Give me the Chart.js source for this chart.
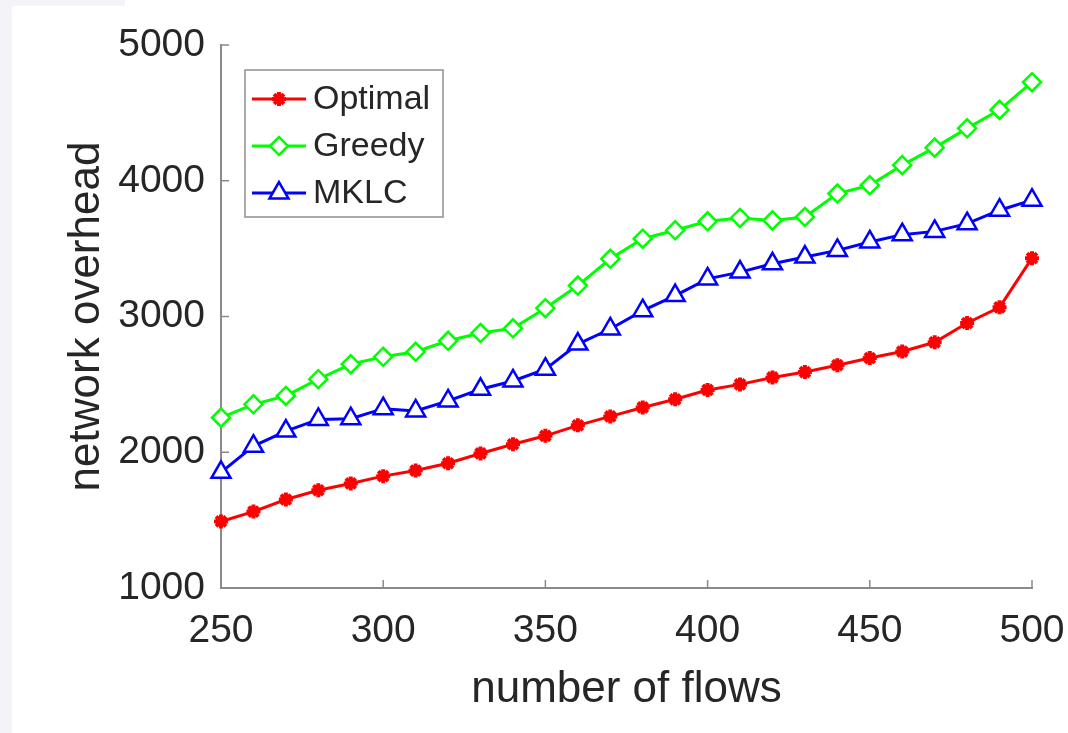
<!DOCTYPE html>
<html>
<head>
<meta charset="utf-8">
<script src="https://cdn.jsdelivr.net/npm/chart.js@4"></script>
<style>
  html, body { margin: 0; padding: 0; background: #fff; }
  #wrap { position: relative; width: 1068px; height: 733px; }
  .strip { position: absolute; background: #f4f4f8; }
  canvas { position: absolute; left: 0; top: 0; }
</style>
</head>
<body>
<div id="wrap">
  <div class="strip" style="left:0;top:0;width:12px;height:733px"></div>
  <div class="strip" style="left:0;top:0;width:125px;height:6px"></div>
  <canvas id="c" width="1068" height="733"></canvas>
</div>
<script>
const FLOWS   = [250,260,270,280,290,300,310,320,330,340,350,360,370,380,390,400,410,420,430,440,450,460,470,480,490,500];
const OPTIMAL = [1490,1563,1652,1720,1770,1824,1865,1919,1991,2059,2121,2198,2264,2330,2390,2459,2500,2551,2591,2641,2694,2742,2810,2952,3068,3430];
const GREEDY  = [2255,2353,2415,2538,2649,2703,2740,2821,2878,2913,3061,3228,3425,3573,3635,3701,3726,3708,3733,3906,3967,4115,4244,4386,4522,4726];
const MKLC    = [1852,2045,2156,2242,2247,2321,2304,2378,2464,2525,2612,2797,2908,3043,3154,3277,3327,3388,3438,3487,3549,3603,3627,3684,3783,3857];
const Y_TICKS = [1000,2000,3000,4000,5000];
const X_TICKS = [250,300,350,400,450,500];

const TXT  = '#262626';
const AXIS = '#8a8a8a';
const FONT = "'Liberation Sans', Arial, sans-serif";

const pts = arr => arr.map((v, i) => ({ x: FLOWS[i], y: v }));

// ticks hacia dentro, estilo matlab
const innerTicks = {
  id: 'innerTicks',
  afterDatasetsDraw(chart) {
    const { ctx, scales: { x, y } } = chart;
    ctx.save();
    ctx.strokeStyle = AXIS;
    ctx.lineWidth = 1.5;
    ctx.beginPath();
    X_TICKS.forEach(v => {
      const px = x.getPixelForValue(v);
      ctx.moveTo(px, y.bottom); ctx.lineTo(px, y.bottom - 8);
    });
    Y_TICKS.forEach(v => {
      const py = y.getPixelForValue(v);
      ctx.moveTo(x.left, py); ctx.lineTo(x.left + 8, py);
    });
    ctx.stroke();
    ctx.restore();
  }
};

// leyenda dentro del área, con caja
const boxLegend = {
  id: 'boxLegend',
  afterDraw(chart) {
    const { ctx } = chart;
    const bx = 245, by = 70, bw = 198, bh = 147;
    ctx.save();
    ctx.fillStyle = '#fff';
    ctx.fillRect(bx, by, bw, bh);
    ctx.strokeStyle = '#8f8f8f';
    ctx.lineWidth = 1.5;
    ctx.strokeRect(bx, by, bw, bh);
    chart.data.datasets.forEach((ds, i) => {
      const ly = 99 + i * 47;
      ctx.strokeStyle = ds.borderColor;
      ctx.lineWidth = ds.borderWidth;
      ctx.beginPath(); ctx.moveTo(252, ly); ctx.lineTo(306, ly); ctx.stroke();
      ctx.fillStyle = ds.pointBackgroundColor;
      ctx.lineWidth = ds.pointBorderWidth;
      Chart.helpers.drawPoint(ctx, {
        pointStyle: ds.pointStyle, radius: ds.pointRadius, borderWidth: ds.pointBorderWidth, rotation: 0
      }, 279, ly);
      ctx.fillStyle = TXT;
      ctx.font = '34px ' + FONT;
      ctx.textBaseline = 'middle';
      ctx.textAlign = 'left';
      ctx.fillText(ds.label, 313, ly + 1);
    });
    ctx.restore();
  }
};

const series = (label, data, color, style, r, bw) => ({
  label, data: pts(data),
  borderColor: color, backgroundColor: 'rgba(0,0,0,0)',
  pointBorderColor: color, pointBackgroundColor: style === 'star' ? color : '#fff',
  borderWidth: 3, pointStyle: style, pointRadius: r, pointBorderWidth: bw,
  pointHoverRadius: r, tension: 0, clip: false
});

new Chart(document.getElementById('c'), {
  type: 'line',
  data: {
    datasets: [
      series('Optimal', OPTIMAL, '#ff0000', 'star', 7, 4),
      series('Greedy',  GREEDY,  '#00ff00', 'rectRot', 9, 2.5),
      series('MKLC',    MKLC,    '#0000ff', 'triangle', 11, 2.5)
    ]
  },
  options: {
    responsive: false,
    animation: false,
    devicePixelRatio: 1,
    layout: { padding: { left: 0, top: 45, right: 36, bottom: 0 } },
    plugins: { legend: { display: false }, tooltip: { enabled: false } },
    scales: {
      x: {
        type: 'linear', min: 250, max: 500,
        afterFit: s => { s.height = 145; s.paddingLeft = 0; s.paddingRight = 0; },
        afterBuildTicks: s => { s.ticks = X_TICKS.map(v => ({ value: v })); },
        grid: { display: true, drawOnChartArea: false, drawTicks: false },
        border: { display: true, color: AXIS, width: 2 },
        ticks: { color: TXT, font: { family: FONT, size: 39 }, padding: 20, maxRotation: 0, callback: v => String(v) },
        title: { display: true, text: 'number of flows', color: TXT, font: { family: FONT, size: 44 }, padding: { top: 0, bottom: 17 } }
      },
      y: {
        min: 1000, max: 5000,
        afterFit: s => { s.width = 221; s.paddingTop = 0; s.paddingBottom = 0; },
        afterBuildTicks: s => { s.ticks = Y_TICKS.map(v => ({ value: v })); },
        grid: { display: true, drawOnChartArea: false, drawTicks: false },
        border: { display: true, color: AXIS, width: 2 },
        ticks: { color: TXT, font: { family: FONT, size: 39 }, padding: 16, callback: v => String(v) },
        title: { display: true, text: 'network overhead', color: TXT, font: { family: FONT, size: 44 }, padding: { top: 60, bottom: 0 } }
      }
    }
  },
  plugins: [innerTicks, boxLegend]
});
</script>
</body>
</html>
